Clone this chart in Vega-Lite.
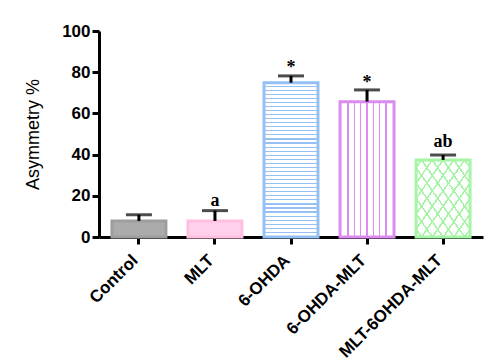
{
  "$schema": "https://vega.github.io/schema/vega-lite/v6.json",
  "autosize": "none",
  "width": 384,
  "height": 206,
  "padding": {"left": 99, "top": 31, "right": 13, "bottom": 127},
  "background": "white",
  "config": {"view": {"stroke": null}, "axis": {"grid": false}},
  "data": {"values": [
    {"group": "Control", "value": 7.8, "err": 10.8, "label": "", "labelY": 14},
    {"group": "MLT", "value": 7.8, "err": 12.8, "label": "a", "labelY": 15},
    {"group": "6-OHDA", "value": 74.9, "err": 78.2, "label": "*", "labelY": 79.5},
    {"group": "6-OHDA-MLT", "value": 65.7, "err": 71.4, "label": "*", "labelY": 72.3},
    {"group": "MLT-6OHDA-MLT", "value": 37.4, "err": 39.8, "label": "ab", "labelY": 43.7}
  ]},
  "encoding": {
    "x": {
      "field": "group", "type": "nominal",
      "scale": {"domain": ["Control", "MLT", "6-OHDA", "6-OHDA-MLT", "MLT-6OHDA-MLT"], "paddingInner": 0.29, "paddingOuter": 0.17},
      "axis": {"title": null, "labelAngle": -45, "labelAlign": "right", "labelBaseline": "alphabetic", "labelFont": "Liberation Sans", "labelFontWeight": "bold", "labelFontSize": 17, "labelColor": "black", "domainColor": "black", "domainWidth": 3, "tickColor": "black", "tickWidth": 3, "tickSize": 7, "labelPadding": 17}
    }
  },
  "layer": [
    {
      "transform": [{"filter": "datum.group === 'Control'"}],
      "mark": {"type": "bar", "fill": "#ababab", "stroke": "#9e9e9e", "strokeWidth": 3},
      "encoding": {"y": {"field": "value", "type": "quantitative", "scale": {"domain": [0, 100], "nice": false},
        "axis": {"values": [0, 20, 40, 60, 80, 100], "title": "Asymmetry %", "titleFont": "Liberation Sans", "titleFontSize": 18, "titleFontWeight": "normal", "titleColor": "black", "titlePadding": 19, "labelFont": "Liberation Sans", "labelFontWeight": "bold", "labelFontSize": 17, "labelColor": "black", "domainColor": "black", "domainWidth": 3, "tickColor": "black", "tickWidth": 3, "tickSize": 7, "labelPadding": 2}}}
    },
    {
      "transform": [{"filter": "datum.group === 'MLT'"}],
      "mark": {"type": "bar", "fill": "#ffd0ea", "stroke": "#ffbfe0", "strokeWidth": 3},
      "encoding": {"y": {"field": "value", "type": "quantitative"}}
    },
    {
      "transform": [{"filter": "datum.group === '6-OHDA'"}],
      "mark": {"type": "bar", "stroke": "#96c0f4", "strokeWidth": 3,
        "fill": {"gradient": "linear", "x1": 0, "y1": 0, "x2": 0, "y2": 1, "stops": [
          {"offset": 0, "color": "#ffffff"}, {"offset": 0.0189, "color": "#ffffff"}, {"offset": 0.0189, "color": "#96c0f4"}, {"offset": 0.0263, "color": "#96c0f4"},
          {"offset": 0.0263, "color": "#ffffff"}, {"offset": 0.0453, "color": "#ffffff"}, {"offset": 0.0453, "color": "#96c0f4"}, {"offset": 0.0526, "color": "#96c0f4"},
          {"offset": 0.0526, "color": "#ffffff"}, {"offset": 0.0716, "color": "#ffffff"}, {"offset": 0.0716, "color": "#96c0f4"}, {"offset": 0.0789, "color": "#96c0f4"},
          {"offset": 0.0789, "color": "#ffffff"}, {"offset": 0.0979, "color": "#ffffff"}, {"offset": 0.0979, "color": "#96c0f4"}, {"offset": 0.1053, "color": "#96c0f4"},
          {"offset": 0.1053, "color": "#ffffff"}, {"offset": 0.1242, "color": "#ffffff"}, {"offset": 0.1242, "color": "#96c0f4"}, {"offset": 0.1316, "color": "#96c0f4"},
          {"offset": 0.1316, "color": "#ffffff"}, {"offset": 0.1505, "color": "#ffffff"}, {"offset": 0.1505, "color": "#96c0f4"}, {"offset": 0.1579, "color": "#96c0f4"},
          {"offset": 0.1579, "color": "#ffffff"}, {"offset": 0.1768, "color": "#ffffff"}, {"offset": 0.1768, "color": "#96c0f4"}, {"offset": 0.1842, "color": "#96c0f4"},
          {"offset": 0.1842, "color": "#ffffff"}, {"offset": 0.2032, "color": "#ffffff"}, {"offset": 0.2032, "color": "#96c0f4"}, {"offset": 0.2105, "color": "#96c0f4"},
          {"offset": 0.2105, "color": "#ffffff"}, {"offset": 0.2295, "color": "#ffffff"}, {"offset": 0.2295, "color": "#96c0f4"}, {"offset": 0.2368, "color": "#96c0f4"},
          {"offset": 0.2368, "color": "#ffffff"}, {"offset": 0.2558, "color": "#ffffff"}, {"offset": 0.2558, "color": "#96c0f4"}, {"offset": 0.2632, "color": "#96c0f4"},
          {"offset": 0.2632, "color": "#ffffff"}, {"offset": 0.2821, "color": "#ffffff"}, {"offset": 0.2821, "color": "#96c0f4"}, {"offset": 0.2895, "color": "#96c0f4"},
          {"offset": 0.2895, "color": "#ffffff"}, {"offset": 0.3084, "color": "#ffffff"}, {"offset": 0.3084, "color": "#96c0f4"}, {"offset": 0.3158, "color": "#96c0f4"},
          {"offset": 0.3158, "color": "#ffffff"}, {"offset": 0.3347, "color": "#ffffff"}, {"offset": 0.3347, "color": "#96c0f4"}, {"offset": 0.3421, "color": "#96c0f4"},
          {"offset": 0.3421, "color": "#ffffff"}, {"offset": 0.3611, "color": "#ffffff"}, {"offset": 0.3611, "color": "#96c0f4"}, {"offset": 0.3684, "color": "#96c0f4"},
          {"offset": 0.3684, "color": "#ffffff"}, {"offset": 0.3874, "color": "#ffffff"}, {"offset": 0.3874, "color": "#96c0f4"}, {"offset": 0.3947, "color": "#96c0f4"},
          {"offset": 0.3947, "color": "#ffffff"}, {"offset": 0.4137, "color": "#ffffff"}, {"offset": 0.4137, "color": "#96c0f4"}, {"offset": 0.4211, "color": "#96c0f4"},
          {"offset": 0.4211, "color": "#ffffff"}, {"offset": 0.4400, "color": "#ffffff"}, {"offset": 0.4400, "color": "#96c0f4"}, {"offset": 0.4474, "color": "#96c0f4"},
          {"offset": 0.4474, "color": "#ffffff"}, {"offset": 0.4663, "color": "#ffffff"}, {"offset": 0.4663, "color": "#96c0f4"}, {"offset": 0.4737, "color": "#96c0f4"},
          {"offset": 0.4737, "color": "#ffffff"}, {"offset": 0.4926, "color": "#ffffff"}, {"offset": 0.4926, "color": "#96c0f4"}, {"offset": 0.5000, "color": "#96c0f4"},
          {"offset": 0.5000, "color": "#ffffff"}, {"offset": 0.5189, "color": "#ffffff"}, {"offset": 0.5189, "color": "#96c0f4"}, {"offset": 0.5263, "color": "#96c0f4"},
          {"offset": 0.5263, "color": "#ffffff"}, {"offset": 0.5453, "color": "#ffffff"}, {"offset": 0.5453, "color": "#96c0f4"}, {"offset": 0.5526, "color": "#96c0f4"},
          {"offset": 0.5526, "color": "#ffffff"}, {"offset": 0.5716, "color": "#ffffff"}, {"offset": 0.5716, "color": "#96c0f4"}, {"offset": 0.5789, "color": "#96c0f4"},
          {"offset": 0.5789, "color": "#ffffff"}, {"offset": 0.5979, "color": "#ffffff"}, {"offset": 0.5979, "color": "#96c0f4"}, {"offset": 0.6053, "color": "#96c0f4"},
          {"offset": 0.6053, "color": "#ffffff"}, {"offset": 0.6242, "color": "#ffffff"}, {"offset": 0.6242, "color": "#96c0f4"}, {"offset": 0.6316, "color": "#96c0f4"},
          {"offset": 0.6316, "color": "#ffffff"}, {"offset": 0.6505, "color": "#ffffff"}, {"offset": 0.6505, "color": "#96c0f4"}, {"offset": 0.6579, "color": "#96c0f4"},
          {"offset": 0.6579, "color": "#ffffff"}, {"offset": 0.6768, "color": "#ffffff"}, {"offset": 0.6768, "color": "#96c0f4"}, {"offset": 0.6842, "color": "#96c0f4"},
          {"offset": 0.6842, "color": "#ffffff"}, {"offset": 0.7032, "color": "#ffffff"}, {"offset": 0.7032, "color": "#96c0f4"}, {"offset": 0.7105, "color": "#96c0f4"},
          {"offset": 0.7105, "color": "#ffffff"}, {"offset": 0.7295, "color": "#ffffff"}, {"offset": 0.7295, "color": "#96c0f4"}, {"offset": 0.7368, "color": "#96c0f4"},
          {"offset": 0.7368, "color": "#ffffff"}, {"offset": 0.7558, "color": "#ffffff"}, {"offset": 0.7558, "color": "#96c0f4"}, {"offset": 0.7632, "color": "#96c0f4"},
          {"offset": 0.7632, "color": "#ffffff"}, {"offset": 0.7821, "color": "#ffffff"}, {"offset": 0.7821, "color": "#96c0f4"}, {"offset": 0.7895, "color": "#96c0f4"},
          {"offset": 0.7895, "color": "#ffffff"}, {"offset": 0.8084, "color": "#ffffff"}, {"offset": 0.8084, "color": "#96c0f4"}, {"offset": 0.8158, "color": "#96c0f4"},
          {"offset": 0.8158, "color": "#ffffff"}, {"offset": 0.8347, "color": "#ffffff"}, {"offset": 0.8347, "color": "#96c0f4"}, {"offset": 0.8421, "color": "#96c0f4"},
          {"offset": 0.8421, "color": "#ffffff"}, {"offset": 0.8611, "color": "#ffffff"}, {"offset": 0.8611, "color": "#96c0f4"}, {"offset": 0.8684, "color": "#96c0f4"},
          {"offset": 0.8684, "color": "#ffffff"}, {"offset": 0.8874, "color": "#ffffff"}, {"offset": 0.8874, "color": "#96c0f4"}, {"offset": 0.8947, "color": "#96c0f4"},
          {"offset": 0.8947, "color": "#ffffff"}, {"offset": 0.9137, "color": "#ffffff"}, {"offset": 0.9137, "color": "#96c0f4"}, {"offset": 0.9211, "color": "#96c0f4"},
          {"offset": 0.9211, "color": "#ffffff"}, {"offset": 0.9400, "color": "#ffffff"}, {"offset": 0.9400, "color": "#96c0f4"}, {"offset": 0.9474, "color": "#96c0f4"},
          {"offset": 0.9474, "color": "#ffffff"}, {"offset": 0.9663, "color": "#ffffff"}, {"offset": 0.9663, "color": "#96c0f4"}, {"offset": 0.9737, "color": "#96c0f4"},
          {"offset": 0.9737, "color": "#ffffff"}, {"offset": 0.9926, "color": "#ffffff"}, {"offset": 0.9926, "color": "#96c0f4"}, {"offset": 1, "color": "#96c0f4"}
        ]}},
      "encoding": {"y": {"field": "value", "type": "quantitative"}}
    },
    {
      "transform": [{"filter": "datum.group === '6-OHDA-MLT'"}],
      "mark": {"type": "bar", "stroke": "#dc8cf0", "strokeWidth": 3,
        "fill": {"gradient": "linear", "x1": 0, "y1": 0, "x2": 1, "y2": 0, "stops": [
          {"offset": 0, "color": "#ffffff"}, {"offset": 0.135, "color": "#ffffff"}, {"offset": 0.135, "color": "#dc8cf0"}, {"offset": 0.161, "color": "#dc8cf0"},
          {"offset": 0.161, "color": "#ffffff"}, {"offset": 0.252, "color": "#ffffff"}, {"offset": 0.252, "color": "#dc8cf0"}, {"offset": 0.278, "color": "#dc8cf0"},
          {"offset": 0.278, "color": "#ffffff"}, {"offset": 0.370, "color": "#ffffff"}, {"offset": 0.370, "color": "#dc8cf0"}, {"offset": 0.396, "color": "#dc8cf0"},
          {"offset": 0.396, "color": "#ffffff"}, {"offset": 0.487, "color": "#ffffff"}, {"offset": 0.487, "color": "#dc8cf0"}, {"offset": 0.513, "color": "#dc8cf0"},
          {"offset": 0.513, "color": "#ffffff"}, {"offset": 0.604, "color": "#ffffff"}, {"offset": 0.604, "color": "#dc8cf0"}, {"offset": 0.630, "color": "#dc8cf0"},
          {"offset": 0.630, "color": "#ffffff"}, {"offset": 0.722, "color": "#ffffff"}, {"offset": 0.722, "color": "#dc8cf0"}, {"offset": 0.748, "color": "#dc8cf0"},
          {"offset": 0.748, "color": "#ffffff"}, {"offset": 0.839, "color": "#ffffff"}, {"offset": 0.839, "color": "#dc8cf0"}, {"offset": 0.865, "color": "#dc8cf0"},
          {"offset": 0.865, "color": "#ffffff"}, {"offset": 1, "color": "#ffffff"}
        ]}},
      "encoding": {"y": {"field": "value", "type": "quantitative"}}
    },
    {
      "transform": [{"filter": "datum.group === 'MLT-6OHDA-MLT'"}],
      "mark": {"type": "bar", "strokeWidth": 0,
        "fill": {"gradient": "linear", "x1": 0, "y1": 0, "x2": 1, "y2": 1, "stops": [
          {"offset": 0, "color": "#ffffff"}, {"offset": 0.041, "color": "#ffffff"}, {"offset": 0.041, "color": "#a6f5a6"}, {"offset": 0.059, "color": "#a6f5a6"},
          {"offset": 0.059, "color": "#ffffff"}, {"offset": 0.141, "color": "#ffffff"}, {"offset": 0.141, "color": "#a6f5a6"}, {"offset": 0.159, "color": "#a6f5a6"},
          {"offset": 0.159, "color": "#ffffff"}, {"offset": 0.241, "color": "#ffffff"}, {"offset": 0.241, "color": "#a6f5a6"}, {"offset": 0.259, "color": "#a6f5a6"},
          {"offset": 0.259, "color": "#ffffff"}, {"offset": 0.341, "color": "#ffffff"}, {"offset": 0.341, "color": "#a6f5a6"}, {"offset": 0.359, "color": "#a6f5a6"},
          {"offset": 0.359, "color": "#ffffff"}, {"offset": 0.441, "color": "#ffffff"}, {"offset": 0.441, "color": "#a6f5a6"}, {"offset": 0.459, "color": "#a6f5a6"},
          {"offset": 0.459, "color": "#ffffff"}, {"offset": 0.541, "color": "#ffffff"}, {"offset": 0.541, "color": "#a6f5a6"}, {"offset": 0.559, "color": "#a6f5a6"},
          {"offset": 0.559, "color": "#ffffff"}, {"offset": 0.641, "color": "#ffffff"}, {"offset": 0.641, "color": "#a6f5a6"}, {"offset": 0.659, "color": "#a6f5a6"},
          {"offset": 0.659, "color": "#ffffff"}, {"offset": 0.741, "color": "#ffffff"}, {"offset": 0.741, "color": "#a6f5a6"}, {"offset": 0.759, "color": "#a6f5a6"},
          {"offset": 0.759, "color": "#ffffff"}, {"offset": 0.841, "color": "#ffffff"}, {"offset": 0.841, "color": "#a6f5a6"}, {"offset": 0.859, "color": "#a6f5a6"},
          {"offset": 0.859, "color": "#ffffff"}, {"offset": 0.941, "color": "#ffffff"}, {"offset": 0.941, "color": "#a6f5a6"}, {"offset": 0.959, "color": "#a6f5a6"},
          {"offset": 0.959, "color": "#ffffff"}, {"offset": 1, "color": "#ffffff"}
        ]}},
      "encoding": {"y": {"field": "value", "type": "quantitative"}}
    },
    {
      "transform": [{"filter": "datum.group === 'MLT-6OHDA-MLT'"}],
      "mark": {"type": "bar", "stroke": "#a6f5a6", "strokeWidth": 3,
        "fill": {"gradient": "linear", "x1": 1, "y1": 0, "x2": 0, "y2": 1, "stops": [
          {"offset": 0, "color": "rgba(255,255,255,0)"}, {"offset": 0.041, "color": "rgba(255,255,255,0)"}, {"offset": 0.041, "color": "#a6f5a6"}, {"offset": 0.059, "color": "#a6f5a6"},
          {"offset": 0.059, "color": "rgba(255,255,255,0)"}, {"offset": 0.141, "color": "rgba(255,255,255,0)"}, {"offset": 0.141, "color": "#a6f5a6"}, {"offset": 0.159, "color": "#a6f5a6"},
          {"offset": 0.159, "color": "rgba(255,255,255,0)"}, {"offset": 0.241, "color": "rgba(255,255,255,0)"}, {"offset": 0.241, "color": "#a6f5a6"}, {"offset": 0.259, "color": "#a6f5a6"},
          {"offset": 0.259, "color": "rgba(255,255,255,0)"}, {"offset": 0.341, "color": "rgba(255,255,255,0)"}, {"offset": 0.341, "color": "#a6f5a6"}, {"offset": 0.359, "color": "#a6f5a6"},
          {"offset": 0.359, "color": "rgba(255,255,255,0)"}, {"offset": 0.441, "color": "rgba(255,255,255,0)"}, {"offset": 0.441, "color": "#a6f5a6"}, {"offset": 0.459, "color": "#a6f5a6"},
          {"offset": 0.459, "color": "rgba(255,255,255,0)"}, {"offset": 0.541, "color": "rgba(255,255,255,0)"}, {"offset": 0.541, "color": "#a6f5a6"}, {"offset": 0.559, "color": "#a6f5a6"},
          {"offset": 0.559, "color": "rgba(255,255,255,0)"}, {"offset": 0.641, "color": "rgba(255,255,255,0)"}, {"offset": 0.641, "color": "#a6f5a6"}, {"offset": 0.659, "color": "#a6f5a6"},
          {"offset": 0.659, "color": "rgba(255,255,255,0)"}, {"offset": 0.741, "color": "rgba(255,255,255,0)"}, {"offset": 0.741, "color": "#a6f5a6"}, {"offset": 0.759, "color": "#a6f5a6"},
          {"offset": 0.759, "color": "rgba(255,255,255,0)"}, {"offset": 0.841, "color": "rgba(255,255,255,0)"}, {"offset": 0.841, "color": "#a6f5a6"}, {"offset": 0.859, "color": "#a6f5a6"},
          {"offset": 0.859, "color": "rgba(255,255,255,0)"}, {"offset": 0.941, "color": "rgba(255,255,255,0)"}, {"offset": 0.941, "color": "#a6f5a6"}, {"offset": 0.959, "color": "#a6f5a6"},
          {"offset": 0.959, "color": "rgba(255,255,255,0)"}, {"offset": 1, "color": "rgba(255,255,255,0)"}
        ]}},
      "encoding": {"y": {"field": "value", "type": "quantitative"}}
    },
    {
      "mark": {"type": "rule", "color": "black", "strokeWidth": 3},
      "encoding": {"y": {"field": "value", "type": "quantitative"}, "y2": {"field": "err"}}
    },
    {
      "mark": {"type": "tick", "color": "black", "thickness": 3, "size": 26, "orient": "horizontal"},
      "encoding": {"y": {"field": "err", "type": "quantitative"}}
    },
    {
      "mark": {"type": "text", "font": "Liberation Serif", "fontWeight": "bold", "fontSize": 18, "baseline": "alphabetic", "align": "center", "color": "black"},
      "encoding": {"y": {"field": "labelY", "type": "quantitative"}, "text": {"field": "label"}}
    }
  ]
}
